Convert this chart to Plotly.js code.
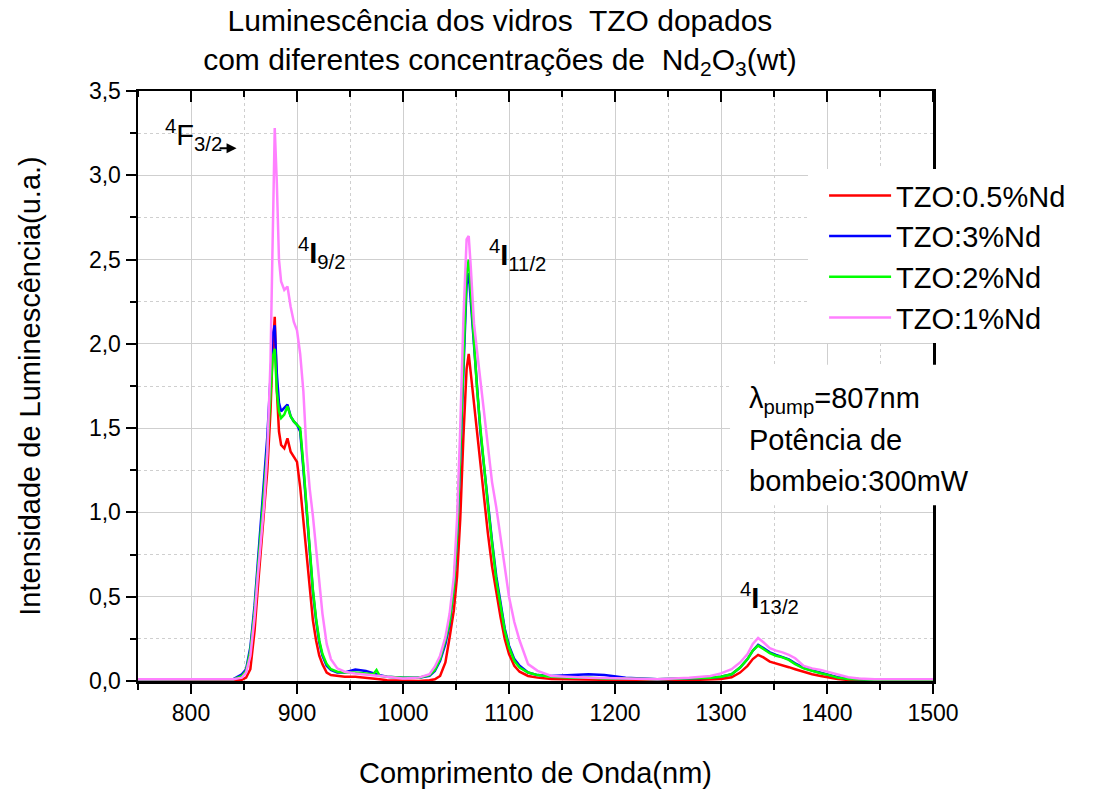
<!DOCTYPE html>
<html>
<head>
<meta charset="utf-8">
<script src="https://cdn.plot.ly/plotly-3.0.1.min.js"></script>
<style>html,body{margin:0;padding:0;background:#fff;}#chart{width:1094px;height:797px;}</style>
</head>
<body>
<div id="chart"></div>
<script>
// Wavelength grid (nm)
const wavelength = [750,780,810,840,848,852,856,860,863,866,869,872,875,877,879,881,883,885,888,891,894,897,900,903,906,909,912,915,918,921,924,928,932,938,945,955,965,972,975,978,985,1000,1015,1025,1030,1035,1040,1044,1048,1051,1054,1057,1060,1062,1064,1067,1070,1073,1076,1080,1084,1088,1092,1096,1100,1105,1110,1118,1127,1140,1160,1175,1190,1210,1240,1270,1290,1300,1310,1318,1325,1330,1335,1340,1346,1352,1358,1364,1370,1378,1386,1394,1402,1410,1420,1430,1445,1470,1500];

const seriesNames = ["TZO:0.5%Nd","TZO:3%Nd","TZO:2%Nd","TZO:1%Nd"];
const seriesColors = ["#ff0000","#0000ff","#00ff00","#ff80ff"];

const nd05 = [0.01,0.008,0.01,0.005,0.008,0.02,0.07,0.3,0.55,0.8,1.0,1.25,1.6,1.95,2.16,1.72,1.48,1.40,1.38,1.44,1.36,1.33,1.30,1.15,0.95,0.72,0.52,0.36,0.24,0.15,0.10,0.05,0.035,0.03,0.025,0.025,0.02,0.015,0.015,0.01,0.005,0.002,0.0,0.004,0.01,0.03,0.11,0.26,0.42,0.62,0.96,1.45,1.85,1.94,1.82,1.62,1.47,1.28,1.1,0.88,0.68,0.52,0.38,0.25,0.16,0.09,0.055,0.03,0.02,0.012,0.01,0.008,0.005,0.004,0.002,0.005,0.008,0.012,0.022,0.05,0.09,0.13,0.155,0.14,0.115,0.105,0.092,0.082,0.07,0.055,0.04,0.03,0.02,0.012,0.006,0.004,0.003,0.003,0.003];

const nd3 = [0.01,0.01,0.01,0.012,0.04,0.07,0.2,0.45,0.7,0.95,1.15,1.45,1.8,2.05,2.11,1.82,1.65,1.6,1.62,1.64,1.57,1.54,1.52,1.48,1.26,1.0,0.75,0.53,0.36,0.23,0.15,0.09,0.065,0.05,0.05,0.068,0.06,0.045,0.04,0.035,0.025,0.02,0.02,0.03,0.06,0.12,0.22,0.34,0.56,0.86,1.33,1.9,2.35,2.42,2.25,1.95,1.7,1.48,1.3,1.05,0.83,0.62,0.46,0.31,0.21,0.13,0.09,0.05,0.035,0.03,0.035,0.04,0.035,0.02,0.01,0.015,0.02,0.025,0.04,0.08,0.13,0.18,0.215,0.195,0.17,0.155,0.142,0.128,0.105,0.078,0.062,0.048,0.036,0.022,0.014,0.01,0.008,0.008,0.008];

const nd2 = [0.01,0.01,0.01,0.01,0.03,0.06,0.18,0.42,0.66,0.9,1.1,1.38,1.7,1.92,1.97,1.72,1.6,1.56,1.58,1.63,1.57,1.54,1.52,1.5,1.28,1.02,0.76,0.54,0.37,0.24,0.16,0.1,0.07,0.055,0.05,0.05,0.045,0.04,0.065,0.03,0.025,0.02,0.02,0.035,0.065,0.13,0.24,0.35,0.56,0.86,1.36,1.95,2.42,2.5,2.3,1.98,1.72,1.5,1.3,1.05,0.82,0.6,0.45,0.3,0.2,0.12,0.08,0.05,0.035,0.025,0.02,0.02,0.015,0.015,0.01,0.015,0.02,0.025,0.04,0.08,0.13,0.18,0.21,0.19,0.165,0.15,0.14,0.125,0.1,0.075,0.06,0.046,0.035,0.02,0.012,0.01,0.008,0.008,0.008];

const nd1 = [0.01,0.01,0.01,0.01,0.02,0.05,0.15,0.38,0.62,0.85,1.05,1.35,1.9,2.6,3.28,2.95,2.5,2.37,2.32,2.34,2.22,2.13,2.08,1.94,1.72,1.36,1.14,0.98,0.8,0.58,0.4,0.22,0.13,0.075,0.055,0.045,0.04,0.035,0.035,0.03,0.025,0.015,0.02,0.04,0.085,0.15,0.26,0.4,0.62,0.96,1.5,2.15,2.62,2.64,2.45,2.12,1.95,1.78,1.6,1.38,1.18,1.03,0.85,0.66,0.5,0.35,0.24,0.1,0.06,0.03,0.022,0.02,0.018,0.015,0.01,0.02,0.03,0.045,0.07,0.11,0.16,0.22,0.255,0.23,0.195,0.18,0.17,0.155,0.135,0.09,0.075,0.066,0.052,0.04,0.022,0.015,0.01,0.01,0.01];

const seriesValues = [nd05, nd3, nd2, nd1];

// x axis settings
const xRange = [750, 1500];
const xMajorStep = 100;
const xMinorStep = 50;

const FONT = '"Liberation Sans", Arial, sans-serif';

const traces = seriesValues.map((vals, i) => ({
  type: 'scatter', mode: 'lines',
  x: wavelength, y: vals,
  name: seriesNames[i],
  line: {color: seriesColors[i], width: 2.5}
}));

const gridCol = '#cfcfcf';

// inward tick marks along the top frame: longer at major steps, shorter at minor steps
const PLOT_H = 797 - 91 - 116;
const topTickShapes = [];
for (let v = xRange[0]; v <= xRange[1]; v += xMinorStep) {
  const len = (v % xMajorStep === 0) ? 11 : 6;
  const px = (v - xRange[0]) / (xRange[1] - xRange[0]);
  topTickShapes.push({type: 'line', xref: 'paper', yref: 'paper', x0: px, x1: px, y0: 1.0, y1: 1.0 - len / PLOT_H,
    line: {color: '#000000', width: 2}, layer: 'above'});
}

const layout = {
  width: 1094, height: 797,
  margin: {l: 138, r: 161, t: 91, b: 116, autoexpand: false},
  paper_bgcolor: '#fff', plot_bgcolor: '#fff',
  font: {family: FONT, color: '#000', size: 23},
  separators: ', ',
  title: {
    text: 'Luminescência dos vidros  TZO dopados<br>com diferentes concentrações de  Nd<sub>2</sub>O<sub>3</sub>(wt)',
    font: {family: FONT, size: 30, color: '#000'},
    xref: 'container', x: 0.457, xanchor: 'center',
    yref: 'container', y: 0.961, yanchor: 'middle'
  },
  xaxis: {
    range: xRange, dtick: xMajorStep, tick0: 0, tickformat: 'd',
    ticks: 'outside', ticklen: 10, tickwidth: 2, tickcolor: '#000',
    showline: true, linewidth: 2.5, linecolor: '#000', mirror: true,
    showgrid: true, gridcolor: gridCol, gridwidth: 1, zeroline: false,
    minor: {dtick: xMinorStep, tick0: 0, ticks: 'outside', ticklen: 6, tickwidth: 2, tickcolor: '#000', showgrid: true, gridcolor: gridCol, griddash: 'dot', gridwidth: 1},
    tickfont: {size: 23, family: FONT},
    title: {text: 'Comprimento de Onda(nm)', font: {size: 29, family: FONT}, standoff: 38},
    automargin: false
  },
  yaxis: {
    range: [0, 3.5], dtick: 0.5, tick0: 0, tickformat: '.1f',
    ticks: 'outside', ticklen: 10, tickwidth: 2, tickcolor: '#000',
    showline: true, linewidth: 2.5, linecolor: '#000', mirror: true,
    showgrid: true, gridcolor: gridCol, gridwidth: 1, zeroline: false,
    minor: {dtick: 0.25, tick0: 0, ticks: 'outside', ticklen: 6, tickwidth: 2, tickcolor: '#000', showgrid: true, gridcolor: gridCol, griddash: 'dot', gridwidth: 1},
    tickfont: {size: 23, family: FONT},
    title: {text: 'Intensidade de Luminescência(u.a.)', font: {size: 29, family: FONT}, standoff: 40},
    automargin: false
  },
  showlegend: true,
  legend: {
    x: 0.863, y: 0.866, xanchor: 'left', yanchor: 'top',
    bgcolor: 'rgba(255,255,255,0)', borderwidth: 0,
    font: {size: 29, family: FONT},
    itemwidth: 62, tracegroupgap: 0
  },
  shapes: topTickShapes.concat([
    {type: 'rect', xref: 'paper', yref: 'paper', x0: 0.8428, x1: 1.2, y0: 0.573, y1: 0.868, fillcolor: '#fff', line: {width: 0}, layer: 'above'},
    {type: 'rect', xref: 'paper', yref: 'paper', x0: 0.7447, x1: 1.066, y0: 0.298, y1: 0.536, fillcolor: '#fff', line: {width: 0}, layer: 'above'}
  ]),
  annotations: [
    {xref: 'x', yref: 'y', x: 773.9, y: 3.24, xanchor: 'left', yanchor: 'middle', showarrow: false,
     text: '<sup>4</sup>F<sub>3/2</sub>', font: {size: 29, family: FONT}},
    {xref: 'x', yref: 'y', x: 843, y: 3.16, ax: 825.5, ay: 3.16, axref: 'x', ayref: 'y',
     text: '', showarrow: true, arrowhead: 2, arrowsize: 1, arrowwidth: 2, arrowcolor: '#000'},
    {xref: 'x', yref: 'y', x: 899.3, y: 2.54, xanchor: 'left', yanchor: 'middle', showarrow: false,
     text: '<sup>4</sup><b>I</b><sub>9/2</sub>', font: {size: 29, family: FONT}},
    {xref: 'x', yref: 'y', x: 1079.5, y: 2.53, xanchor: 'left', yanchor: 'middle', showarrow: false,
     text: '<sup>4</sup><b>I</b><sub>11/2</sub>', font: {size: 29, family: FONT}},
    {xref: 'x', yref: 'y', x: 1316, y: 0.49, xanchor: 'left', yanchor: 'middle', showarrow: false,
     text: '<sup>4</sup><b>I</b><sub>13/2</sub>', font: {size: 29, family: FONT}},
    {xref: 'paper', yref: 'paper', x: 0.766, y: 0.477, xanchor: 'left', yanchor: 'middle', align: 'left', showarrow: false,
     text: 'λ<sub>pump</sub>=807nm', font: {size: 29, family: FONT}},
    {xref: 'paper', yref: 'paper', x: 0.766, y: 0.4085, xanchor: 'left', yanchor: 'middle', align: 'left', showarrow: false,
     text: 'Potência de', font: {size: 29, family: FONT}},
    {xref: 'paper', yref: 'paper', x: 0.766, y: 0.339, xanchor: 'left', yanchor: 'middle', align: 'left', showarrow: false,
     text: 'bombeio:300mW', font: {size: 29, family: FONT}}
  ]
};

Plotly.newPlot('chart', traces, layout, {staticPlot: true, displayModeBar: false});
</script>
</body>
</html>
